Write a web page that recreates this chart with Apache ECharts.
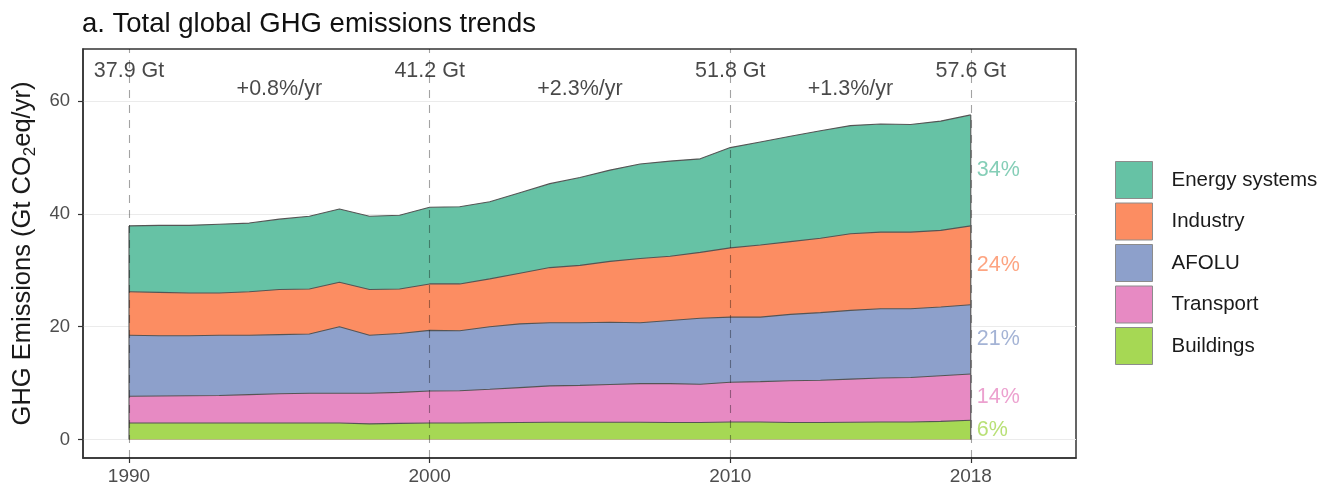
<!DOCTYPE html>
<html>
<head>
<meta charset="utf-8">
<script src="https://cdn.jsdelivr.net/npm/echarts@6/dist/echarts.min.js"></script>
<style>
  html, body { margin: 0; padding: 0; background: #ffffff; }
  #chart { width: 1332px; height: 488px; }
</style>
</head>
<body>
<div id="chart"></div>
<script>
// Annual emissions by sector, Gt CO2eq/yr
const years = [1990, 1991, 1992, 1993, 1994, 1995, 1996, 1997, 1998, 1999,
               2000, 2001, 2002, 2003, 2004, 2005, 2006, 2007, 2008, 2009,
               2010, 2011, 2012, 2013, 2014, 2015, 2016, 2017, 2018];

const buildings = [2.9, 2.9, 2.9, 2.9, 2.9, 2.9, 2.9, 2.9, 2.75, 2.85,
                   2.9, 2.9, 2.95, 3.0, 3.05, 3.05, 3.05, 3.05, 3.0, 3.0,
                   3.1, 3.1, 3.0, 3.0, 3.05, 3.1, 3.1, 3.2, 3.4];

const transport = [4.75, 4.8, 4.85, 4.9, 5.05, 5.2, 5.3, 5.3, 5.45, 5.5,
                   5.7, 5.75, 5.95, 6.2, 6.45, 6.55, 6.7, 6.85, 6.9, 6.8,
                   7.05, 7.15, 7.4, 7.5, 7.65, 7.8, 7.9, 8.1, 8.2];

const afolu = [10.85, 10.7, 10.65, 10.7, 10.55, 10.5, 10.5, 11.8, 10.3, 10.45,
               10.75, 10.65, 11.1, 11.3, 11.2, 11.1, 11.05, 10.8, 11.2, 11.7,
               11.55, 11.45, 11.8, 12.0, 12.2, 12.3, 12.2, 12.2, 12.3];

const industry = [7.7, 7.7, 7.6, 7.5, 7.7, 8.0, 8.0, 7.9, 8.1, 7.9,
                  8.25, 8.3, 8.5, 9.0, 9.8, 10.2, 10.8, 11.4, 11.4, 11.7,
                  12.3, 12.8, 12.9, 13.2, 13.6, 13.6, 13.6, 13.6, 14.0];

const energy = [11.7, 11.9, 12.0, 12.2, 12.2, 12.5, 12.9, 13.0, 13.0, 13.1,
                13.6, 13.7, 13.7, 14.3, 14.9, 15.6, 16.2, 16.8, 16.9, 16.6,
                17.8, 18.3, 18.7, 19.1, 19.2, 19.2, 19.1, 19.4, 19.7];

// Stacking order, bottom to top
const sectorNames = ['Buildings', 'Transport', 'AFOLU', 'Industry', 'Energy systems'];
const sectorColors = ['#A6D854', '#E78AC3', '#8DA0CB', '#FC8D62', '#66C2A5'];
const legendOrder = ['Energy systems', 'Industry', 'AFOLU', 'Transport', 'Buildings'];

// Reference years marked with dashed lines, and axis ticks
const markerYears = [1990, 2000, 2010, 2018];
const xTicks = [1990, 2000, 2010, 2018];
const yTicks = [0, 20, 40, 60];

const FONT = '"Liberation Sans", Arial, Helvetica, sans-serif';
const OUTLINE = '#555555';

const sectors = [buildings, transport, afolu, industry, energy];
const idx = y => years.indexOf(y);

// Running sums: upper edge of each band
const upper = [];
sectors.forEach((vals, k) => {
  upper.push(vals.map((v, i) => (k ? upper[k - 1][i] : 0) + v));
});
const totals = upper[upper.length - 1];
const totalAt = y => totals[idx(y)];

// Bands are drawn from the top one down, each filled to zero,
// so every band shows between its own edge and the one below
const areaSeries = sectors.map((vals, k) => ({
  name: sectorNames[k],
  type: 'line',
  symbol: 'none',
  z: 2,
  data: years.map((y, i) => [y, upper[k][i]]),
  lineStyle: { color: OUTLINE, width: 1.1 },
  itemStyle: { color: sectorColors[k] },
  areaStyle: { color: sectorColors[k], opacity: 1 },
  emphasis: { disabled: true }
})).reverse();

// Dashed reference lines on top of the bands
areaSeries[areaSeries.length - 1].markLine = {
  silent: true,
  symbol: 'none',
  z: 6,
  label: { show: false },
  lineStyle: { type: [8, 7], color: 'rgba(0,0,0,0.36)', width: 1.1 },
  data: markerYears.map(v => ({ xAxis: v }))
};

// Closing vertical edges of the stack at the first and last year
const edgeYears = [years[0], years[years.length - 1]];
const edgeSeries = edgeYears.map(y => ({
  type: 'line',
  symbol: 'none',
  silent: true,
  z: 3,
  lineStyle: { color: OUTLINE, width: 1.1 },
  data: [[y, 0], [y, totalAt(y)]]
}));

// Total emissions at the marked years
const totalLabelRow = 65.3;
const totalLabels = {
  type: 'scatter',
  symbolSize: 0,
  silent: true,
  z: 10,
  data: markerYears.map(y => [y, totalLabelRow]),
  label: {
    show: true,
    position: 'inside',
    fontFamily: FONT,
    fontSize: 21.5,
    color: '#1a1a1a',
    formatter: p => totalAt(p.value[0]).toFixed(1) + ' Gt'
  }
};

// Average annual growth over each period
const growthLabelRow = 62.2;
const periods = markerYears.slice(0, -1).map((y, i) => [y, markerYears[i + 1]]);
const growthLabels = {
  type: 'scatter',
  symbolSize: 0,
  silent: true,
  z: 10,
  data: periods.map(([a, b]) => ({
    value: [(a + b) / 2, growthLabelRow],
    rate: (Math.pow(totalAt(b) / totalAt(a), 1 / (b - a)) - 1) * 100
  })),
  label: {
    show: true,
    position: 'inside',
    fontFamily: FONT,
    fontSize: 21.5,
    color: '#1a1a1a',
    formatter: p => '+' + p.data.rate.toFixed(1) + '%/yr'
  }
};

// Sector shares in the last year, next to each band
const lastYear = years[years.length - 1];
const shareData = sectors.map((vals, k) => {
  const v = vals[idx(lastYear)];
  return {
    value: [lastYear, upper[k][idx(lastYear)] - v / 2],
    share: Math.round(v / totalAt(lastYear) * 100),
    label: { color: sectorColors[k] }
  };
});
const shareLabels = {
  type: 'scatter',
  symbolSize: 0,
  silent: true,
  z: 10,
  data: shareData,
  label: {
    show: true,
    position: 'right',
    distance: 6,
    fontFamily: FONT,
    fontSize: 21.5,
    formatter: p => p.data.share + '%'
  }
};

const chart = echarts.init(document.getElementById('chart'), null, { renderer: 'canvas' });
chart.setOption({
  animation: false,
  backgroundColor: '#ffffff',
  title: {
    text: 'a. Total global GHG emissions trends',
    left: 82,
    top: 10,
    padding: 0,
    textStyle: { fontFamily: FONT, fontSize: 27.5, fontWeight: 'normal', color: '#111111' }
  },
  legend: {
    data: legendOrder,
    orient: 'vertical',
    left: 1115,
    top: 161,
    padding: 0,
    itemWidth: 37,
    itemHeight: 37,
    itemGap: 3.5,
    icon: 'rect',
    selectedMode: false,
    itemStyle: { borderColor: '#8c8c8c', borderWidth: 1 },
    textStyle: { fontFamily: FONT, fontSize: 20.5, color: '#1a1a1a', padding: [0, 0, 0, 14] }
  },
  grid: {
    left: 83,
    right: 256,
    top: 49,
    bottom: 30,
    show: true,
    borderColor: '#333333',
    borderWidth: 1.5,
    backgroundColor: 'transparent',
    outerBoundsMode: 'none'
  },
  xAxis: {
    type: 'value',
    min: 1988.47,
    max: 2021.5,
    axisLine: { show: true, onZero: false, lineStyle: { color: '#333333', width: 1.5 } },
    axisTick: { show: true, customValues: xTicks, length: 5, lineStyle: { color: '#333333', width: 1.2 } },
    axisLabel: {
      customValues: xTicks,
      fontFamily: FONT, fontSize: 19, color: '#4d4d4d', margin: 9,
      formatter: v => String(v)
    },
    splitLine: { show: false }
  },
  yAxis: {
    type: 'value',
    min: -3.3,
    max: 69.3,
    name: '{a|GHG Emissions (Gt CO}{s|2}{a|eq/yr)}',
    nameLocation: 'middle',
    nameRotate: 90,
    nameGap: 42,
    nameTextStyle: {
      rich: {
        a: { fontFamily: FONT, fontSize: 25.5, color: '#1a1a1a', lineHeight: 32 },
        s: { fontFamily: FONT, fontSize: 17, color: '#1a1a1a', lineHeight: 17, verticalAlign: 'bottom' }
      }
    },
    axisLine: { show: true, onZero: false, lineStyle: { color: '#333333', width: 1.5 } },
    axisTick: { show: true, customValues: yTicks, length: 5, lineStyle: { color: '#333333', width: 1.2 } },
    axisLabel: {
      customValues: yTicks,
      fontFamily: FONT, fontSize: 18.5, color: '#4d4d4d', margin: 13
    },
    splitLine: { show: true, lineStyle: { color: '#ebebeb', width: 1.2 } }
  },
  series: [...areaSeries, ...edgeSeries, totalLabels, growthLabels, shareLabels]
});
</script>
</body>
</html>
